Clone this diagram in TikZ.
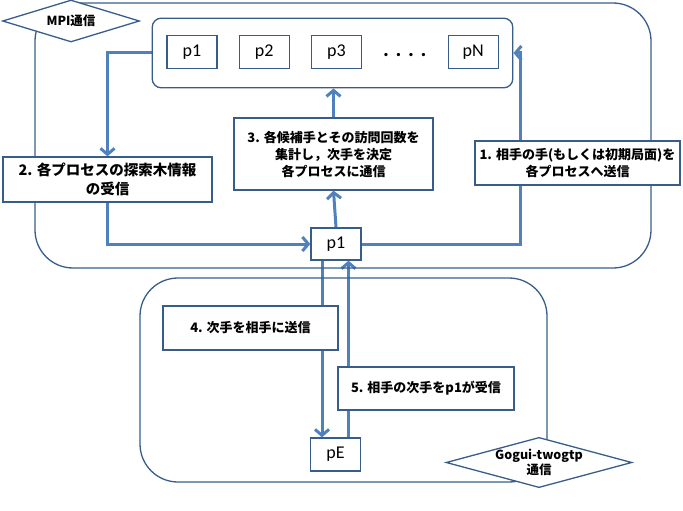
\documentclass[tikz,border=0pt]{standalone}
\usepackage{fontspec}
\setmainfont{Carlito}
\newfontfamily\jpfont{Noto Sans CJK JP}
\usetikzlibrary{matrix, positioning, shapes.geometric, arrows.meta, backgrounds}
\definecolor{edgeblue}{RGB}{56,93,138}
\definecolor{flowblue}{RGB}{79,129,189}

\begin{document}
\begin{tikzpicture}[x=1pt, y=-1pt,
    area/.style={draw=edgeblue, line width=1.3pt, rounded corners=38pt, inner sep=0},
    talk/.style={diamond, draw=edgeblue, line width=1.3pt, fill=white, inner sep=0, align=center, font=\jpfont\bfseries\fontsize{12.5}{15}\selectfont},
    stepbox/.style={draw=edgeblue, line width=1.3pt, fill=white, align=center, inner sep=0, font=\jpfont\bfseries\fontsize{13}{17}\selectfont},
    proc/.style={draw=edgeblue, line width=1.3pt, fill=white, sharp corners, minimum width=50pt, minimum height=33pt, inner sep=0, font=\fontsize{18}{20}\selectfont},
    flow/.style={draw=flowblue, line width=3pt, -{Straight Barb[length=6pt,width=14pt]}}]

    \useasboundingbox (0,0) rectangle (683,511);

    \node[area, minimum width=616pt, minimum height=265pt] (mpiarea) at (343,135.5) {};
    \node[area, minimum width=407pt, minimum height=204pt] (gtparea) at (343.5,380) {};

    \matrix[matrix of nodes, draw=edgeblue, line width=1.3pt, rounded corners=9pt, inner xsep=14pt, inner ysep=16.5pt, column sep=21pt,
      nodes={proc}, column 4/.style={nodes={draw=none, fill=none, minimum width=29pt, font=\bfseries\fontsize{22}{22}\selectfont}}] (procs) at (332.5,53) {
      p1 & p2 & p3 & . . . . & pN\\};

    \node[talk, aspect=3.26, minimum width=137pt, minimum height=42pt] (mpi) at (71,21) {MPI通信};
    \node[talk, aspect=3.7, minimum width=182pt, minimum height=49pt] (gogui) at (539,462.5) {Gogui-twogtp\\通信};

    \node[stepbox, minimum width=205pt, minimum height=44pt] (send) at (577.5,163) {1. 相手の手(もしくは初期局面)を\\各プロセスへ送信};
    \node[stepbox, minimum width=209pt, minimum height=45pt, font=\jpfont\bfseries\fontsize{14.5}{19}\selectfont] (recv) at (107.5,179.5) {2. 各プロセスの探索木情報\\の受信};
    \node[stepbox, minimum width=199pt, minimum height=72pt] (agg) at (333.5,154) {3. 各候補手とその訪問回数を\\集計し，次手を決定\\各プロセスに通信};
    \node[proc, minimum height=32pt] (master) at (336,244) {p1};
    \node[stepbox, minimum width=175pt, minimum height=44pt] (tell) at (250.5,328) {4. 次手を相手に送信};
    \node[stepbox, minimum width=176pt, minimum height=43pt] (hear) at (426,388.5) {5. 相手の次手をp1が受信};
    \node[proc] (enemy) at (335.5,454.5) {pE};
    \coordinate (turn) at (520,53);

    \begin{pgfonlayer}{background}
      \draw[flow] (procs.west) -| (recv.north);
      \draw[flow] (recv.south) |- (master.west);
      \draw[flow] (master.north) -- (agg.south);
      \draw[flow] (agg.north) -- (agg.north |- procs.south);
      \draw[flow] (master.east) -| (turn) -- (procs.east);
      \draw[flow] ([xshift=-14pt]master.south) -- ([xshift=-14pt]master.south |- enemy.north);
      \draw[flow] ([xshift=13pt]enemy.north) -- ([xshift=13pt]enemy.north |- master.south);
    \end{pgfonlayer}
\end{tikzpicture}
\end{document}
